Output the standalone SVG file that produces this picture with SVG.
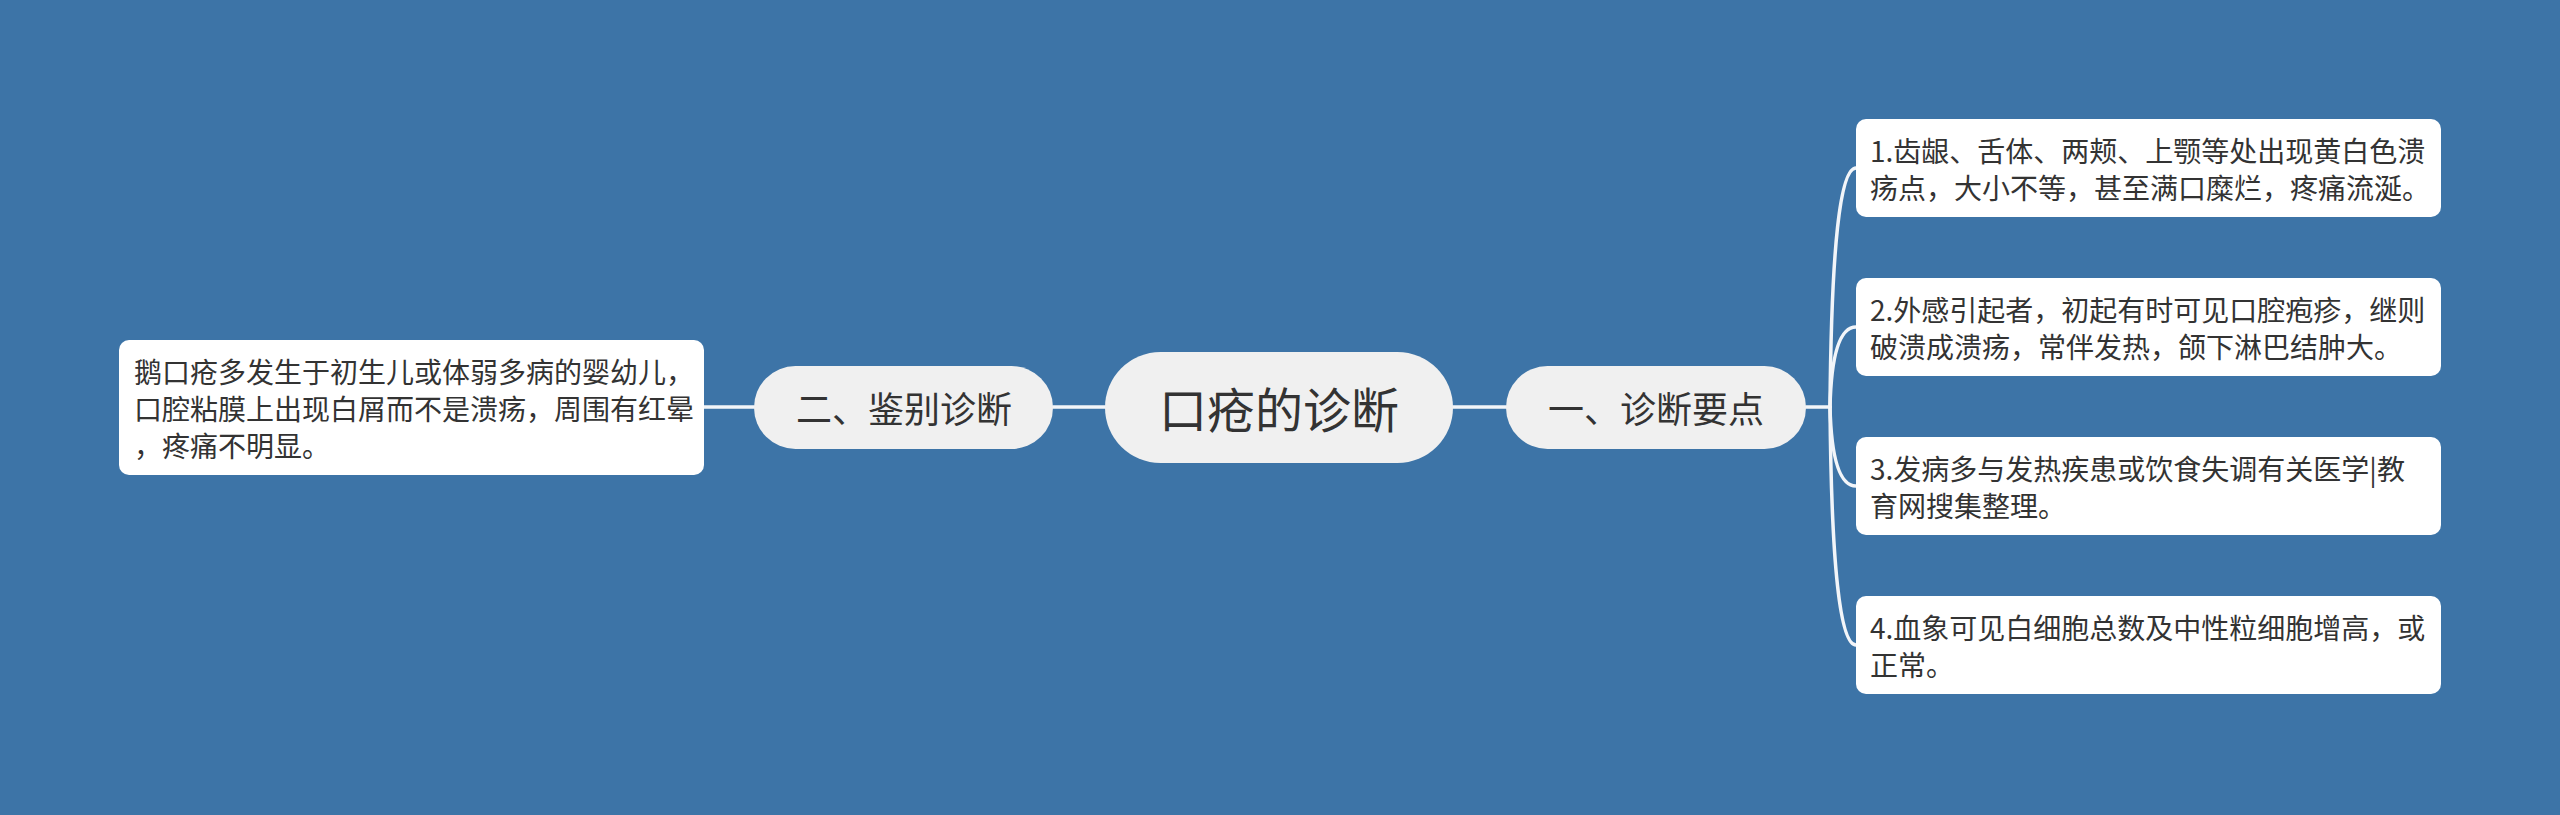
<svg xmlns="http://www.w3.org/2000/svg" width="2560" height="815" viewBox="0 0 2560 815">
<style>
.t{font-family:"Noto Sans CJK SC","Noto Sans",sans-serif;fill:#333333;dominant-baseline:central}
.main{fill:#f0f0f0}
.leaf{fill:#ffffff}
.c{fill:none;stroke:#f2f5f9;stroke-width:3.5;stroke-linecap:round}
</style>
<rect x="0" y="0" width="2560" height="815" fill="#3d74a7"/>
<g id="connectors">
<path class="c" d="M704 407 L754 407"/>
<path class="c" d="M1053 407 L1105 407"/>
<path class="c" d="M1453 407 L1506 407"/>
<path class="c" d="M1806 407 L1830 407"/>
<path class="c" d="M1830 407 Q1832 168 1856 168"/>
<path class="c" d="M1830 407 Q1832 327 1856 327"/>
<path class="c" d="M1830 407 Q1832 486 1856 486"/>
<path class="c" d="M1830 407 Q1832 645 1856 645"/>
</g>
<g id="root">
<rect class="main" x="1105" y="352" width="348" height="111" rx="55.5"/>
<text class="t" x="1279" y="407" font-size="48" text-anchor="middle">口疮的诊断</text>
</g>
<g id="n1">
<rect class="main" x="1506" y="366" width="300" height="83" rx="41.5"/>
<text class="t" x="1656" y="407" font-size="36" text-anchor="middle">一、诊断要点</text>
</g>
<g id="n2">
<rect class="main" x="754" y="366" width="299" height="83" rx="41.5"/>
<text class="t" x="904" y="407" font-size="36" text-anchor="middle">二、鉴别诊断</text>
</g>
<g id="l0">
<rect class="leaf" x="119" y="340" width="585" height="135" rx="10"/>
<text class="t" font-size="28"><tspan x="134" y="371">鹅口疮多发生于初生儿或体弱多病的婴幼儿，</tspan><tspan x="134" y="408">口腔粘膜上出现白屑而不是溃疡，周围有红晕</tspan><tspan x="134" y="445">，疼痛不明显。</tspan></text>
</g>
<g id="l1">
<rect class="leaf" x="1856" y="119" width="585" height="98" rx="10"/>
<text class="t" font-size="28"><tspan x="1870" y="150">1.齿龈、舌体、两颊、上颚等处出现黄白色溃</tspan><tspan x="1870" y="187">疡点，大小不等，甚至满口糜烂，疼痛流涎。</tspan></text>
</g>
<g id="l2">
<rect class="leaf" x="1856" y="278" width="585" height="98" rx="10"/>
<text class="t" font-size="28"><tspan x="1870" y="309">2.外感引起者，初起有时可见口腔疱疹，继则</tspan><tspan x="1870" y="346">破溃成溃疡，常伴发热，颌下淋巴结肿大。</tspan></text>
</g>
<g id="l3">
<rect class="leaf" x="1856" y="437" width="585" height="98" rx="10"/>
<text class="t" font-size="28"><tspan x="1870" y="468">3.发病多与发热疾患或饮食失调有关医学|教</tspan><tspan x="1870" y="505">育网搜集整理。</tspan></text>
</g>
<g id="l4">
<rect class="leaf" x="1856" y="596" width="585" height="98" rx="10"/>
<text class="t" font-size="28"><tspan x="1870" y="627">4.血象可见白细胞总数及中性粒细胞增高，或</tspan><tspan x="1870" y="664">正常。</tspan></text>
</g>
</svg>
